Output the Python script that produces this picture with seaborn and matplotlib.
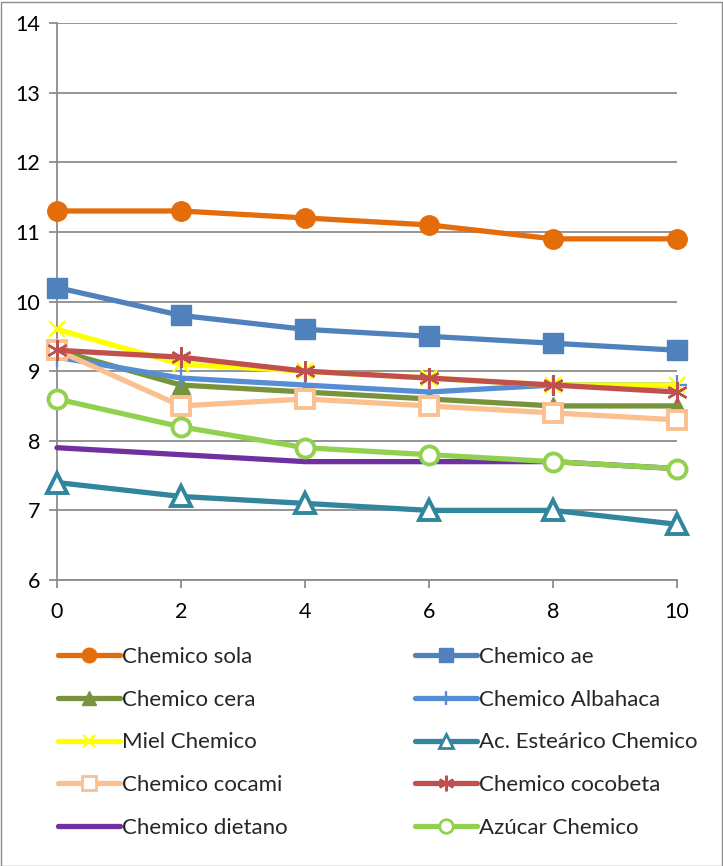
import matplotlib
matplotlib.use("Agg")
import matplotlib.pyplot as plt
import seaborn as sns
import pandas as pd
from matplotlib.lines import Line2D
from matplotlib.patches import Rectangle

# Measurements over time (x) for each formulation
x_values = [0, 2, 4, 6, 8, 10]
series_names = [
    "Chemico sola", "Chemico ae", "Chemico cera", "Chemico Albahaca",
    "Miel Chemico", "Ac. Esteárico Chemico", "Chemico cocami",
    "Chemico cocobeta", "Chemico dietano", "Azúcar Chemico",
]
chemico_sola = [11.3, 11.3, 11.2, 11.1, 10.9, 10.9]
chemico_ae = [10.2, 9.8, 9.6, 9.5, 9.4, 9.3]
chemico_cera = [9.3, 8.8, 8.7, 8.6, 8.5, 8.5]
chemico_albahaca = [9.2, 8.9, 8.8, 8.7, 8.8, 8.8]
miel_chemico = [9.6, 9.1, 9.0, 8.9, 8.8, 8.8]
estearico_chemico = [7.4, 7.2, 7.1, 7.0, 7.0, 6.8]
chemico_cocami = [9.3, 8.5, 8.6, 8.5, 8.4, 8.3]
chemico_cocobeta = [9.3, 9.2, 9.0, 8.9, 8.8, 8.7]
chemico_dietano = [7.9, 7.8, 7.7, 7.7, 7.7, 7.6]
azucar_chemico = [8.6, 8.2, 7.9, 7.8, 7.7, 7.6]
y_ticks = [6, 7, 8, 9, 10, 11, 12, 13, 14]

series_values = [
    chemico_sola, chemico_ae, chemico_cera, chemico_albahaca, miel_chemico,
    estearico_chemico, chemico_cocami, chemico_cocobeta, chemico_dietano,
    azucar_chemico,
]

rows = []
for name, vals in zip(series_names, series_values):
    for xv, yv in zip(x_values, vals):
        rows.append({"x": xv, "y": yv, "serie": name})
df = pd.DataFrame(rows)

# color, marker, marker size, filled marker?
styles = {
    "Chemico sola": ("#E46C0A", "o", 14, True),
    "Chemico ae": ("#4F81BD", "s", 14, True),
    "Chemico cera": ("#77933C", "^", 13, True),
    "Chemico Albahaca": ("#558ED5", "+", 14, True),
    "Miel Chemico": ("#FFFF00", "x", 12, True),
    "Ac. Esteárico Chemico": ("#31859C", "^", 14, False),
    "Chemico cocami": ("#FAC090", "s", 13, False),
    "Chemico cocobeta": ("#C0504D", (6, 2, 0), 15, True),
    "Chemico dietano": ("#7030A0", None, 0, True),
    "Azúcar Chemico": ("#92D050", "o", 13, False),
}

sns.set_theme(style="white")
plt.rcParams["font.family"] = ["Lato", "DejaVu Sans"]

fig = plt.figure(figsize=(7.23, 8.66), dpi=100)
ax = fig.add_axes([57 / 723, 1 - 580 / 866, 620 / 723, 557 / 866])

handles = {}
for name in series_names:
    color, marker, msize, filled = styles[name]
    sub = df[df["serie"] == name]
    kw = dict(color=color, linewidth=3.8, clip_on=False, zorder=3)
    if marker is not None:
        kw.update(marker=marker, markersize=msize)
        if marker in ("+", "x", (6, 2, 0)):
            kw.update(markeredgecolor=color, markeredgewidth=1.7)
        elif filled:
            kw.update(markerfacecolor=color, markeredgecolor=color, markeredgewidth=1)
        else:
            kw.update(markerfacecolor="white", markeredgecolor=color, markeredgewidth=2.8)
    sns.lineplot(data=sub, x="x", y="y", ax=ax, legend=False, **kw)
    lkw = {k: v for k, v in kw.items() if k not in ("clip_on", "zorder")}
    if "markersize" in lkw:
        lkw["markersize"] = lkw["markersize"] * 0.75
    if "markeredgewidth" in lkw:
        lkw["markeredgewidth"] = min(lkw["markeredgewidth"], 2.0)
    handles[name] = Line2D([], [], **lkw)

ax.set_xlim(0, 10)
ax.set_ylim(6, 14)
ax.set_xticks(x_values)
ax.set_yticks(y_ticks)
ax.set_xlabel("")
ax.set_ylabel("")
ax.grid(axis="y", color="#8C8C8C", linewidth=1.3)
ax.grid(axis="x", visible=False)
ax.set_axisbelow(True)
for side in ("top", "right"):
    ax.spines[side].set_visible(False)
for side in ("left", "bottom"):
    ax.spines[side].set_color("#8C8C8C")
    ax.spines[side].set_linewidth(1.3)
ax.tick_params(axis="both", which="major", direction="out", length=6, width=1.3,
               color="#8C8C8C", labelsize=15.5, labelcolor="black", pad=6)
ax.tick_params(axis="x", pad=10)
ax.tick_params(left=True, bottom=True)

# legend laid out row by row in two columns
left_col = series_names[0::2]
right_col = series_names[1::2]
order = left_col + right_col
fig.legend([handles[n] for n in order], order, ncol=2,
           loc="upper left", bbox_to_anchor=(58 / 723, 1 - 647 / 866),
           frameon=False, fontsize=16, handlelength=2.8, handletextpad=0.1,
           columnspacing=5.7, labelspacing=1.02, borderaxespad=0,
           borderpad=0)

# chart area border
fig.patches.append(Rectangle((0.5 / 723, 0.5 / 866), 721 / 723, 864 / 866,
                             transform=fig.transFigure, fill=False,
                             edgecolor="#8C8C8C", linewidth=1.0))

fig.savefig("out.png", dpi=100)
